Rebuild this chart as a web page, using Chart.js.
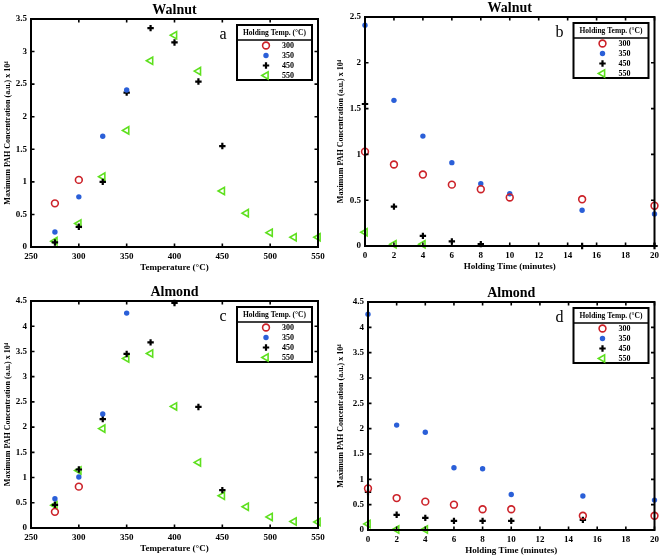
<!DOCTYPE html>
<html><head><meta charset="utf-8">
<script src="https://cdn.jsdelivr.net/npm/chart.js@4/dist/chart.umd.min.js"></script>
<style>
html,body{margin:0;padding:0;background:#fff;width:663px;height:558px;overflow:hidden;position:relative}
canvas{position:absolute}
</style></head><body>
<canvas id="pa"></canvas><canvas id="pb"></canvas><canvas id="pc"></canvas><canvas id="pd"></canvas>
<script>
// ---- data ----
const seriesLabels = ['300', '350', '450', '550'];
const tempX = [275, 300, 325, 350, 375, 400, 425, 450, 475, 500, 525, 550];
const timeX = [0, 2, 4, 6, 8, 10, 15, 20];
const tempTicks = [250, 300, 350, 400, 450, 500, 550];
const timeTicks = [0, 2, 4, 6, 8, 10, 12, 14, 16, 18, 20];

// Walnut, vs temperature
const walnutTemp300 = [0.67, 1.03];
const walnutTemp350 = [0.23, 0.77, 1.70, 2.41];
const walnutTemp450 = [0.07, 0.31, 1.00, 2.37, 3.36, 3.14, 2.54, 1.55];
const walnutTemp550 = [0.09, 0.36, 1.08, 1.79, 2.86, 3.25, 2.70, 0.86, 0.52, 0.22, 0.15, 0.15];
// Walnut, vs holding time
const walnutTime300 = [1.03, 0.89, 0.78, 0.67, 0.62, 0.53, 0.51, 0.44];
const walnutTime350 = [2.41, 1.59, 1.20, 0.91, 0.68, 0.57, 0.39, 0.35];
const walnutTime450 = [1.55, 0.43, 0.11, 0.05, 0.02, null, 0.0, 0.0];
const walnutTime550 = [0.15, 0.02, 0.02];
// Almond, vs temperature
const almondTemp300 = [0.32, 0.82];
const almondTemp350 = [0.58, 1.01, 2.26, 4.26];
const almondTemp450 = [0.46, 1.16, 2.16, 3.45, 3.68, 4.46, 2.40, 0.75];
const almondTemp550 = [0.45, 1.14, 1.97, 3.36, 3.46, 2.41, 1.30, 0.64, 0.42, 0.22, 0.13, 0.12];
// Almond, vs holding time
const almondTime300 = [0.82, 0.63, 0.56, 0.50, 0.41, 0.41, 0.28, 0.28];
const almondTime350 = [4.26, 2.07, 1.93, 1.23, 1.21, 0.70, 0.67, 0.59];
const almondTime450 = [0.75, 0.30, 0.24, 0.18, 0.18, 0.18, 0.20];
const almondTime550 = [0.12, 0.01, 0.01];

// ---- styles ----
const SERIF = '"Liberation Serif", "DejaVu Serif", serif';
const RED = '#cc2229', BLUE = '#2a5fd8', GREEN = '#5ee01e', BLACK = '#000';
const styles = [
  {pointStyle: 'circle', radius: 3.4, borderWidth: 1.6, borderColor: RED, backgroundColor: 'rgba(0,0,0,0)', rotation: 0},
  {pointStyle: 'circle', radius: 2.7, borderWidth: 0, borderColor: BLUE, backgroundColor: BLUE, rotation: 0},
  {pointStyle: 'cross', radius: 3.2, borderWidth: 2.2, borderColor: BLACK, backgroundColor: BLACK, rotation: 0},
  {pointStyle: 'triangle', radius: 4.2, borderWidth: 1.6, borderColor: GREEN, backgroundColor: 'rgba(0,0,0,0)', rotation: -90}
];

function toPoints(xs, ys) {
  const pts = [];
  ys.forEach((v, i) => { if (v !== null && v !== undefined) pts.push({x: xs[i], y: v}); });
  return pts;
}

function drawMarker(ctx, s, x, y) {
  ctx.save();
  ctx.lineWidth = s.borderWidth;
  ctx.strokeStyle = s.borderColor;
  ctx.fillStyle = s.backgroundColor;
  if (s.pointStyle === 'circle') {
    ctx.beginPath(); ctx.arc(x, y, s.radius, 0, Math.PI * 2);
    if (s.borderWidth === 0) ctx.fill(); else ctx.stroke();
  } else if (s.pointStyle === 'cross') {
    ctx.beginPath();
    ctx.moveTo(x - s.radius, y); ctx.lineTo(x + s.radius, y);
    ctx.moveTo(x, y - s.radius); ctx.lineTo(x, y + s.radius);
    ctx.stroke();
  } else {
    const r = s.radius;
    ctx.beginPath();
    ctx.moveTo(x - r, y);
    ctx.lineTo(x + r * 0.5, y - r * 0.866);
    ctx.lineTo(x + r * 0.5, y + r * 0.866);
    ctx.closePath(); ctx.stroke();
  }
  ctx.restore();
}

const framePlugin = {
  id: 'frame',
  afterDraw(chart, args, opts) {
    const {ctx, chartArea: a, scales} = chart;
    ctx.save();
    ctx.strokeStyle = '#000';
    // inward ticks on all four sides
    ctx.lineWidth = 1.6;
    const tl = 3.5;
    ctx.beginPath();
    scales.x.ticks.forEach(t => {
      const px = scales.x.getPixelForValue(t.value);
      ctx.moveTo(px, a.bottom); ctx.lineTo(px, a.bottom - tl);
      ctx.moveTo(px, a.top); ctx.lineTo(px, a.top + tl);
    });
    scales.y.ticks.forEach(t => {
      const py = scales.y.getPixelForValue(t.value);
      ctx.moveTo(a.left, py); ctx.lineTo(a.left + tl, py);
      ctx.moveTo(a.right, py); ctx.lineTo(a.right - tl, py);
    });
    ctx.stroke();
    // frame
    ctx.lineWidth = 2;
    ctx.strokeRect(a.left, a.top, a.right - a.left, a.bottom - a.top);
    // title
    ctx.fillStyle = '#000';
    ctx.textAlign = 'center'; ctx.textBaseline = 'middle';
    ctx.font = 'bold 14px ' + SERIF;
    ctx.fillText(opts.title, (a.left + a.right) / 2, a.top - 8.5);
    // legend box
    const w = 75, h = 55;
    const lx = a.right - 6 - w, ly = a.top + 6;
    ctx.fillStyle = '#fff';
    ctx.fillRect(lx, ly, w, h);
    ctx.lineWidth = 2;
    ctx.strokeRect(lx, ly, w, h);
    ctx.lineWidth = 1.5;
    ctx.beginPath(); ctx.moveTo(lx, ly + 15); ctx.lineTo(lx + w, ly + 15); ctx.stroke();
    ctx.fillStyle = '#000';
    ctx.font = 'bold 7.5px ' + SERIF;
    ctx.fillText('Holding Temp. (°C)', lx + w / 2, ly + 8);
    ctx.font = 'bold 8px ' + SERIF;
    ctx.textAlign = 'left';
    seriesLabels.forEach((lab, i) => {
      const yy = ly + 20.5 + i * 10;
      drawMarker(ctx, styles[i], lx + 29, yy);
      ctx.fillStyle = '#000';
      ctx.fillText(lab, lx + 45, yy + 0.5);
    });
    // panel letter
    ctx.textAlign = 'center';
    ctx.font = '16px ' + SERIF;
    ctx.fillText(opts.letter, lx - 14, a.top + 16);
    ctx.restore();
  }
};

function makePanel(id, p) {
  const cv = document.getElementById(id);
  cv.width = p.w; cv.height = p.bottom + 30;
  cv.style.left = p.x + 'px'; cv.style.top = p.y + 'px';
  cv.style.width = p.w + 'px'; cv.style.height = (p.bottom + 30) + 'px';
  const datasets = p.series.map((ys, i) => {
    const s = styles[i];
    return {
      label: seriesLabels[i],
      data: toPoints(p.xs, ys),
      pointStyle: s.pointStyle,
      pointRadius: s.radius,
      pointHoverRadius: s.radius,
      pointBorderWidth: s.borderWidth,
      pointBorderColor: s.borderColor,
      pointBackgroundColor: s.backgroundColor,
      pointRotation: s.rotation,
      showLine: false,
      clip: false
    };
  });
  const tickFont = {family: SERIF, size: 9, weight: 'bold'};
  return new Chart(cv, {
    type: 'scatter',
    data: {datasets},
    options: {
      responsive: false, animation: false, devicePixelRatio: 1,
      layout: {padding: {top: p.top, right: p.w - p.right, left: 0, bottom: 0}},
      plugins: {legend: {display: false}, tooltip: {enabled: false},
        frame: {title: p.title, letter: p.letter}},
      scales: {
        x: {
          type: 'linear', min: p.xTicks[0], max: p.xTicks[p.xTicks.length - 1],
          afterBuildTicks: sc => { sc.ticks = p.xTicks.map(v => ({value: v})); },
          afterFit: sc => { sc.height = 30; },
          grid: {display: false, drawTicks: false},
          border: {display: false},
          ticks: {color: '#000', font: tickFont, padding: 4, maxRotation: 0, autoSkip: false,
            callback: v => String(v)},
          title: {display: true, text: p.xTitle, color: '#000',
            font: {family: SERIF, size: 9, weight: 'bold'}, padding: {top: 0, bottom: 3.6}}
        },
        y: {
          type: 'linear', min: 0, max: p.yMax,
          ticks: {stepSize: 0.5, color: '#000', font: tickFont, padding: 4, autoSkip: false,
            callback: v => String(Math.round(v * 10) / 10)},
          afterFit: sc => { sc.width = p.left; },
          grid: {display: false, drawTicks: false},
          border: {display: false},
          title: {display: true, text: 'Maximum PAH Concentration (a.u.) x 10⁴', color: '#000',
            font: {family: SERIF, size: 8, weight: 'bold'}, padding: {top: 3, bottom: 0}}
        }
      }
    },
    plugins: [framePlugin]
  });
}

makePanel('pa', {x: 0, y: 0, w: 331, left: 31, right: 318, top: 19, bottom: 247,
  xs: tempX, xTicks: tempTicks, yMax: 3.5, title: 'Walnut', letter: 'a',
  xTitle: 'Temperature (°C)',
  series: [walnutTemp300, walnutTemp350, walnutTemp450, walnutTemp550]});
makePanel('pb', {x: 333, y: 0, w: 330, left: 32, right: 323, top: 17, bottom: 246,
  xs: timeX, xTicks: timeTicks, yMax: 2.5, title: 'Walnut', letter: 'b',
  xTitle: 'Holding Time (minutes)',
  series: [walnutTime300, walnutTime350, walnutTime450, walnutTime550]});
makePanel('pc', {x: 0, y: 279, w: 331, left: 31, right: 318, top: 22, bottom: 249,
  xs: tempX, xTicks: tempTicks, yMax: 4.5, title: 'Almond', letter: 'c',
  xTitle: 'Temperature (°C)',
  series: [almondTemp300, almondTemp350, almondTemp450, almondTemp550]});
makePanel('pd', {x: 333, y: 279, w: 330, left: 35, right: 324, top: 23, bottom: 251,
  xs: timeX, xTicks: timeTicks, yMax: 4.5, title: 'Almond', letter: 'd',
  xTitle: 'Holding Time (minutes)',
  series: [almondTime300, almondTime350, almondTime450, almondTime550]});
</script>
</body></html>
